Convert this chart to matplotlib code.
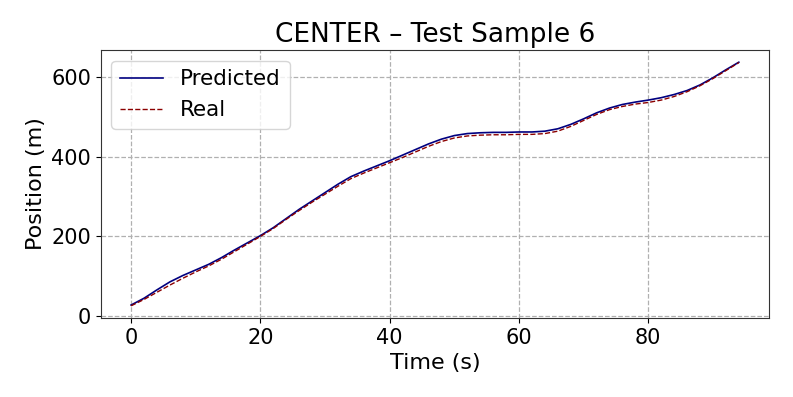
import numpy as np
import matplotlib
matplotlib.use("Agg")
from matplotlib import pyplot as plt

# --- data ---
time_s = np.arange(0, 96, 2)

predicted = [28, 45, 66, 86, 102, 116, 130, 147, 166, 184,
             202, 222, 245, 268, 289, 310, 331, 350, 364, 377,
             390, 404, 418, 432, 444, 453, 458, 460, 461, 461,
             462, 462, 464, 470, 481, 495, 510, 522, 531, 537,
             542, 548, 556, 566, 580, 598, 618, 637]

real = [26, 42, 60, 78, 95, 111, 126, 143, 162, 181,
        200, 220, 243, 265, 286, 306, 326, 345, 359, 372,
        385, 398, 412, 426, 438, 447, 452, 454, 455, 455,
        456, 456, 458, 464, 476, 491, 506, 518, 526, 532,
        536, 542, 551, 563, 578, 596, 616, 636]

fig = plt.figure(figsize=(7.93, 3.97), dpi=100)
ax = fig.add_axes([0.127, 0.199, 0.843, 0.675])

ax.plot(time_s, predicted, color="navy", lw=1.2, label="Predicted")
ax.plot(time_s, real, color="darkred", lw=1.0, ls="--", label="Real")

ax.set_title("CENTER – Test Sample 6", fontsize=19)
ax.set_xlabel("Time (s)", fontsize=16)
ax.set_ylabel("Position (m)", fontsize=16)
ax.tick_params(labelsize=15)
ax.grid(True, ls="--", color="#b0b0b0", lw=0.9)
ax.legend(loc="upper left", fontsize=15.5)
for sp in ax.spines.values():
    sp.set_color("#333333")

fig.savefig("out.png", dpi=100)
